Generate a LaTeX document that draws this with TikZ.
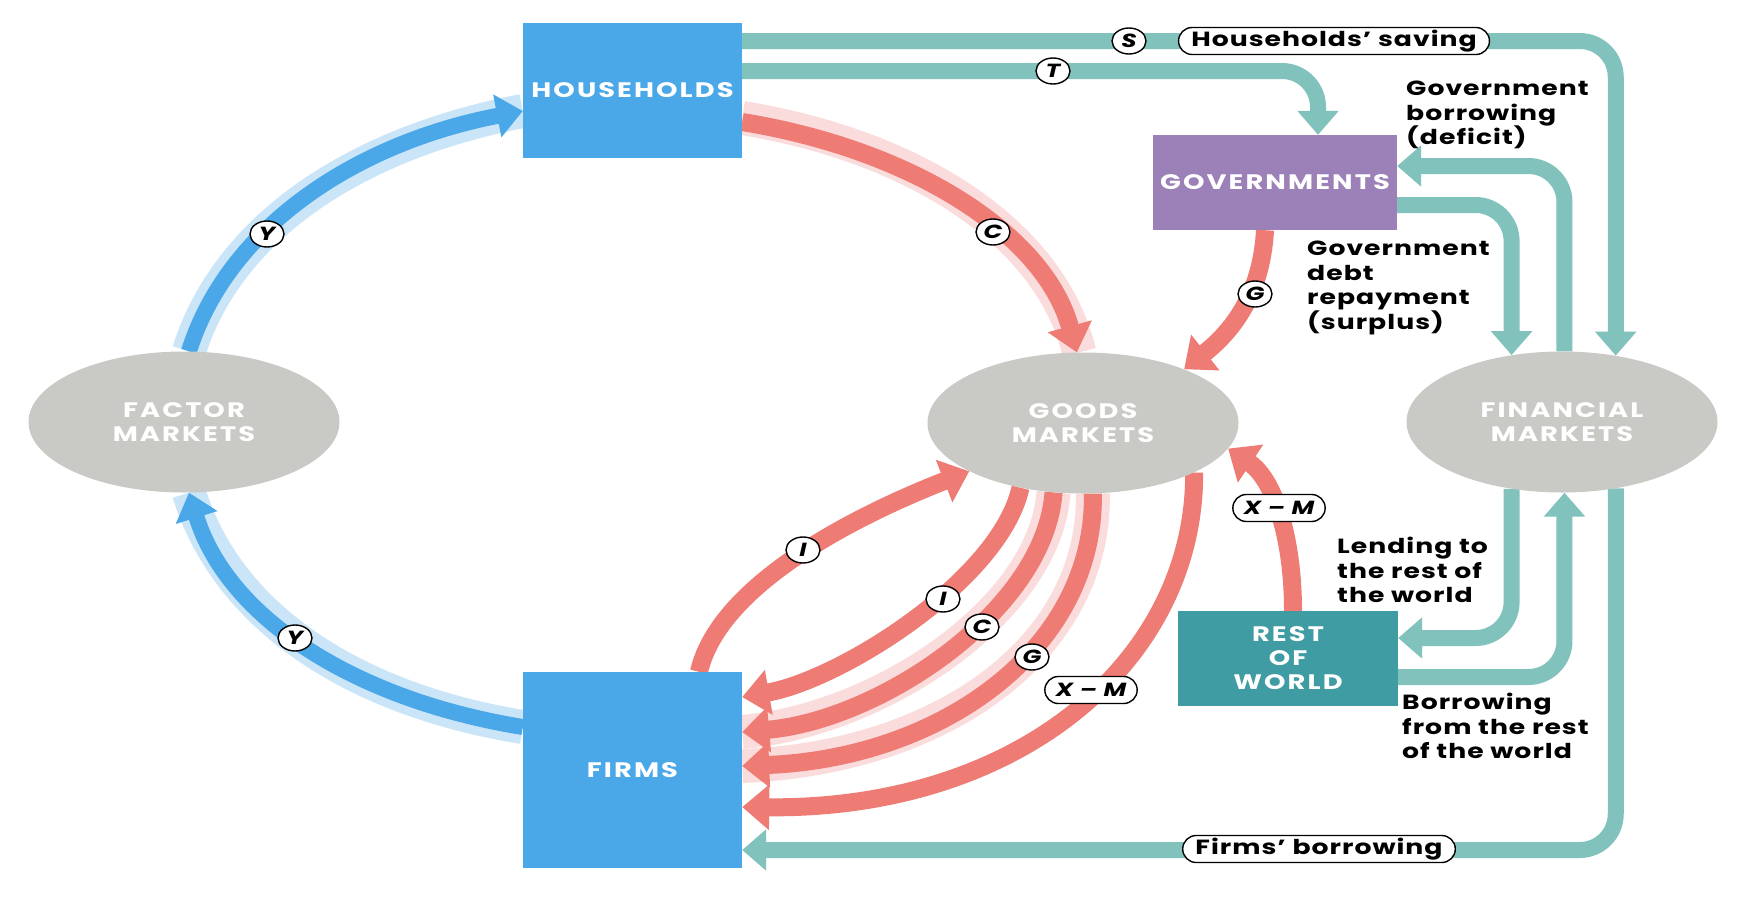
\documentclass[tikz,border=0pt]{standalone}
\usepackage{fontspec}
\setmainfont{Poppins}[FakeStretch=1.3, LetterSpace=5]
\newfontfamily\capsfont{Poppins}[FakeStretch=1.3, LetterSpace=10]
\usetikzlibrary{arrows.meta,shapes.geometric,shapes.misc,backgrounds,calc}
\definecolor{boxblue}{HTML}{4AA7E8}
\definecolor{govpurple}{HTML}{9C80B8}
\definecolor{rowteal}{HTML}{3F9CA2}
\definecolor{mktgrey}{HTML}{C9C9C5}
\definecolor{flowred}{HTML}{EE7B74}
\definecolor{flowteal}{HTML}{82C2BD}
\definecolor{haloblue}{HTML}{CBE5F8}
\definecolor{halopink}{HTML}{FADCDC}
\definecolor{flowblue}{HTML}{4AA7E8}
\begin{document}
\begin{tikzpicture}[x=1pt,y=-1pt,
  sector/.style={rectangle, fill=#1, text=white, inner sep=0, align=center,
    font=\capsfont\bfseries\fontsize{21}{24}\selectfont},
  market/.style={ellipse, fill=mktgrey, text=white, minimum width=311pt,
    minimum height=141pt, inner sep=0, align=center,
    font=\capsfont\bfseries\fontsize{21}{24}\selectfont},
  tealflow/.style={draw=flowteal, line width=16pt, rounded corners=36pt,
    -{Triangle[width=40pt,length=24pt]}},
  redflow/.style={draw=flowred, line width=18pt, -{Triangle[width=44pt,length=27pt]}},
  blueflow/.style={draw=flowblue, line width=16pt, -{Triangle[width=42pt,length=26pt]}},
  pinkhalo/.style={draw=halopink, line width=34pt},
  bluehalo/.style={draw=haloblue, line width=34pt},
  tag/.style={ellipse, draw=black, line width=1.4pt, fill=white, inner sep=0,
    minimum width=34pt, minimum height=26pt,
    font=\bfseries\itshape\fontsize{19}{19}\selectfont},
  pill/.style={rounded rectangle, draw=black, line width=1.4pt, fill=white,
    inner xsep=7pt, inner ysep=0, minimum height=27pt,
    font=\bfseries\fontsize{20.5}{20.5}\selectfont},
  note/.style={align=left, anchor=north west, inner sep=0,
    font=\bfseries\fontsize{20.5}{24.5}\selectfont}
]
\useasboundingbox (0,0) rectangle (1740,902);

% sectors and markets
\node[sector=boxblue, minimum width=219pt, minimum height=135pt] (hh) at (632.5,90.5) {HOUSEHOLDS};
\node[sector=boxblue, minimum width=219pt, minimum height=196pt] (fm) at (632.5,770) {FIRMS};
\node[sector=govpurple, minimum width=244pt, minimum height=95pt] (gov) at (1275,182.5) {GOVERNMENTS};
\node[sector=rowteal, minimum width=220pt, minimum height=95pt] (row) at (1288,658.5) {REST\\OF\\WORLD};
\node[market] (fac) at (184,422) {FACTOR\\MARKETS};
\node[market] (gm) at (1083,423) {GOODS\\MARKETS};
\node[market] (fin) at (1562,422) {FINANCIAL\\MARKETS};

\begin{scope}[on background layer]
  \fill[white] (0,0) rectangle (1740,902);
  % halos
  \draw[bluehalo] (fac.86) .. controls (228,227) and (356,143) .. (hh.west |- 0,111);
  \draw[bluehalo] (fm.west |- 0,727) .. controls (356,700) and (228,619) .. (fac.274);
  \draw[pinkhalo] (hh.east |- 0,118) .. controls (914,146) and (1050,232) .. (gm.93);
  \draw[pinkhalo] (gm.247) .. controls (1045,610) and (880,720) .. (fm.east |- 0,732);
  \draw[pinkhalo] (gm.278) .. controls (1095,650) and (940,758) .. (fm.east |- 0,766);
  % income flows
  \draw[blueflow] (fac.86) .. controls (228,227) and (356,143) .. (hh.west |- 0,111);
  \draw[blueflow] (fm.west |- 0,727) .. controls (356,700) and (228,619) .. (fac.274);
  % expenditure flows
  \draw[redflow] (hh.east |- 0,122) .. controls (914,150) and (1045,235) .. (gm.95);
  \draw[redflow] (gov.south -| 1265,0) .. controls (1262,285) and (1240,325) .. (gm.28);
  \draw[redflow] (row.north -| 1293,0) .. controls (1293,540) and (1275,480) .. (gm.350);
  \draw[redflow] (fm.north -| 699,0) .. controls (720,580) and (870,510) .. (gm.203);
  \draw[redflow] (gm.226) .. controls (1000,580) and (840,680) .. (fm.east |- 0,697);
  \draw[redflow] (gm.247) .. controls (1045,610) and (880,720) .. (fm.east |- 0,732);
  \draw[redflow] (gm.278) .. controls (1095,650) and (940,758) .. (fm.east |- 0,766);
  \draw[redflow] (gm.336) .. controls (1195,660) and (1020,810) .. (fm.east |- 0,807);
  % financial flows
  \draw[tealflow] (hh.east |- 0,41) -| (fin.51);
  \draw[tealflow] (hh.east |- 0,71) -| (gov.north -| 1318,0);
  \draw[tealflow] (fin.88) |- (gov.east |- 0,166);
  \draw[tealflow] (gov.east |- 0,205) -| (fin.127);
  \draw[tealflow] (fin.233) |- (row.east |- 0,638);
  \draw[tealflow] (row.east |- 0,677) -| (fin.272);
  \draw[tealflow] (fin.309) |- (fm.east |- 0,850);
\end{scope}

% flow labels
\node[tag] (tS) at (1129,41) {S};
\node[tag] (tT) at (1053,71) {T};
\node[tag] (tC1) at (993,232) {C};
\node[tag] (tY1) at (267,234) {Y};
\node[tag] (tY2) at (295,638) {Y};
\node[tag] (tG1) at (1255,294) {G};
\node[tag] (tI1) at (803,550) {I};
\node[tag] (tI2) at (943,599) {I};
\node[tag] (tC2) at (982,627) {C};
\node[tag] (tG2) at (1032,657) {G};
\node[pill, inner xsep=9pt, font=\bfseries\itshape\fontsize{19}{19}\selectfont] (tXM1) at (1279,508) {X – M};
\node[pill, inner xsep=9pt, font=\bfseries\itshape\fontsize{19}{19}\selectfont] (tXM2) at (1091,690) {X – M};
\node[pill] (hs) at (1334,41) {Households’ saving};
\node[pill] (fb) at (1319,849) {Firms’ borrowing};

% notes
\node[note] (n1) at (1406,81) {Government\\borrowing\\(deficit)};
\node[note] (n2) at (1307,241) {Government\\debt\\repayment\\(surplus)};
\node[note] (n3) at (1337,537) {Lending to\\the rest of\\the world};
\node[note] (n4) at (1402,693) {Borrowing\\from the rest\\of the world};
\end{tikzpicture}
\end{document}
